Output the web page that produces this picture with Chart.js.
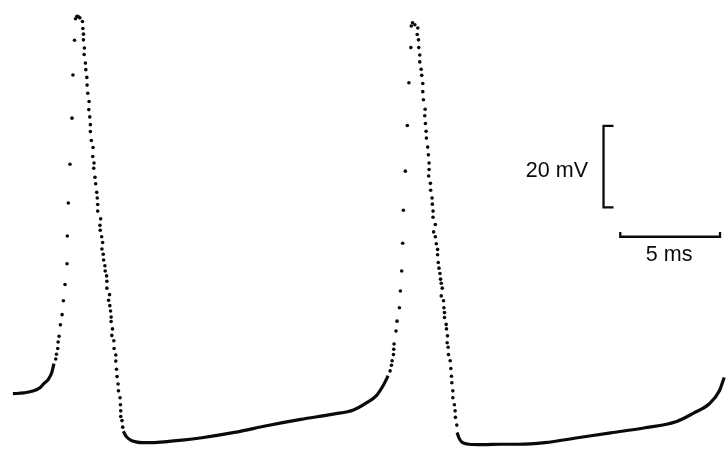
<!DOCTYPE html>
<html>
<head>
<meta charset="utf-8">
<title>Action potentials</title>
<script src="https://cdn.jsdelivr.net/npm/chart.js@4"></script>
<style>
  html, body { margin: 0; padding: 0; background: #fff; }
  #wrap { width: 726px; height: 451px; position: relative; }
</style>
</head>
<body>
<div id="wrap"><canvas id="chart"></canvas></div>
<script>
// time in ms, membrane potential in mV

// slow phases drawn as a continuous line
const restA_t = [0.446, 0.992, 1.488, 1.835, 1.984, 2.232, 2.396, 2.505];
const restA_v = [-65.6, -65.4, -64.9, -64.0, -63.2, -62.0, -60.4, -58.2];

const restB_t = [5.987, 6.116, 6.349, 6.612, 6.944, 7.440, 8.268, 8.928, 9.920, 11.557, 13.228, 14.880, 16.517, 17.524, 18.188, 18.684, 19.012, 19.260];
const restB_v = [-74.8, -76.0, -77.0, -77.4, -77.6, -77.6, -77.3, -77.0, -76.4, -75.1, -73.4, -71.9, -70.6, -69.6, -67.8, -66.0, -63.6, -61.2];

const restC_t = [22.717, 22.816, 22.965, 23.312, 24.056, 24.884, 25.792, 27.116, 28.768, 30.420, 32.076, 33.728, 34.556, 35.380, 35.876, 36.109];
const restC_v = [-75.1, -76.5, -77.5, -78.0, -78.1, -78.0, -78.0, -77.6, -76.4, -75.2, -74.0, -72.4, -70.4, -68.0, -64.8, -61.6];

// fast phases: individual samples
const spike1_t = [
  2.594, 2.629, 2.693, 2.713, 2.763, 2.827, 2.912, 2.976, 3.060, 3.160,
  3.174, 3.224, 3.308, 3.408, 3.457, 3.536, 3.586, 3.656, 3.720, 3.804,
  3.933, 3.953, 3.983, 3.983, 4.032, 4.018, 4.082, 4.102, 4.152, 4.166,
  4.201, 4.266, 4.251, 4.300, 4.330, 4.330, 4.380, 4.464, 4.449, 4.514,
  4.499, 4.563, 4.598, 4.648, 4.677, 4.697, 4.697, 4.846, 4.811, 4.826,
  4.896, 4.945, 4.910, 4.975, 4.995, 5.059, 5.074, 5.144, 5.158, 5.158,
  5.292, 5.243, 5.307, 5.342, 5.372, 5.372, 5.441, 5.406, 5.506, 5.520,
  5.605, 5.605, 5.640, 5.669, 5.719, 5.739, 5.818, 5.838, 5.853, 5.853,
  5.917, 5.952
];
const spike1_v = [
  -57.1, -55.9, -54.5, -52.9, -51.5, -48.7, -46.2, -42.8, -38.8, -33.7,
  -26.9, -18.8, -9.3, 2.0, 12.6, 21.1, 26.4, 27.0, 26.9, 26.6,
  25.7, 24.0, 22.6, 21.2, 19.2, 17.6, 15.5, 13.9, 12.0, 10.1,
  8.1, 6.1, 4.1, 2.3, 0.4, -1.3, -3.5, -5.2, -7.4, -9.0,
  -10.3, -12.5, -14.1, -16.2, -17.6, -19.2, -20.8, -22.7, -24.3, -25.5,
  -27.1, -28.5, -30.1, -31.4, -32.8, -34.2, -35.5, -36.7, -38.0, -39.7,
  -41.3, -42.7, -44.0, -45.3, -46.8, -47.9, -49.7, -51.3, -52.6, -54.5,
  -56.1, -57.6, -59.6, -61.4, -63.2, -64.9, -66.6, -68.3, -69.8, -71.2,
  -72.2, -73.8
];

const spike2_t = [
  19.359, 19.428, 19.458, 19.528, 19.542, 19.557, 19.656, 19.706, 19.825, 19.875,
  19.939, 19.989, 20.024, 20.123, 20.222, 20.301, 20.400, 20.420, 20.485, 20.599,
  20.748, 20.718, 20.782, 20.797, 20.847, 20.847, 20.916, 20.946, 20.996, 20.996,
  21.030, 21.115, 21.095, 21.130, 21.164, 21.179, 21.244, 21.278, 21.313, 21.313,
  21.293, 21.378, 21.392, 21.462, 21.477, 21.512, 21.512, 21.626, 21.541, 21.626,
  21.675, 21.740, 21.740, 21.774, 21.809, 21.859, 21.888, 21.923, 21.973, 21.923,
  22.037, 22.057, 22.087, 22.087, 22.171, 22.186, 22.236, 22.221, 22.270, 22.285,
  22.370, 22.404, 22.434, 22.454, 22.504, 22.504, 22.583, 22.618, 22.632, 22.702
];
const spike2_v = [
  -60.0, -58.6, -57.5, -56.0, -54.7, -53.4, -50.2, -47.8, -44.5, -40.4,
  -35.5, -28.7, -20.6, -11.0, 0.2, 10.7, 19.3, 24.6, 25.4, 24.9,
  24.1, 22.5, 21.2, 19.3, 17.5, 15.8, 14.0, 12.5, 10.5, 8.5,
  6.5, 4.2, 2.6, 0.7, -1.2, -2.9, -5.1, -7.0, -9.0, -10.6,
  -12.2, -14.0, -15.7, -17.6, -19.1, -20.8, -22.3, -24.1, -25.9, -27.1,
  -28.8, -30.2, -31.5, -33.4, -34.8, -36.1, -37.5, -38.5, -39.7, -41.6,
  -42.8, -44.5, -45.7, -46.9, -48.6, -49.7, -51.4, -53.1, -54.2, -56.0,
  -57.5, -59.4, -61.3, -62.9, -64.9, -66.6, -68.3, -69.8, -71.4, -73.3
];

// calibration bars
const BAR_MV = 20;
const BAR_MS = 5;
const VBAR_T = 30.06, VBAR_TOP = 0.1, VBAR_TICK = 0.5;
const HBAR_T = 30.90, HBAR_V = -27.1, HBAR_TICK = 1.2;

const X_MIN = 0, X_MAX = 36.0;
const Y_MIN = -78.67, Y_MAX = 30;

const INK = "#0a0a0a";

function pairs(ts, vs) {
  return ts.map((t, i) => ({ x: t, y: vs[i] }));
}

function curve(ts, vs) {
  return {
    data: pairs(ts, vs),
    showLine: true,
    borderColor: INK,
    borderWidth: 3.2,
    pointRadius: 0,
    cubicInterpolationMode: "monotone",
    clip: false,
  };
}

function dots(ts, vs) {
  return {
    data: pairs(ts, vs),
    showLine: false,
    pointRadius: 1.8,
    pointBorderWidth: 0,
    pointBackgroundColor: INK,
    clip: false,
  };
}

function bar(points) {
  return {
    data: points,
    showLine: true,
    borderColor: INK,
    borderWidth: 2.3,
    pointRadius: 0,
    tension: 0,
  };
}

const vBar = [
  { x: VBAR_T + VBAR_TICK, y: VBAR_TOP },
  { x: VBAR_T, y: VBAR_TOP },
  { x: VBAR_T, y: VBAR_TOP - BAR_MV },
  { x: VBAR_T + VBAR_TICK, y: VBAR_TOP - BAR_MV },
];
const hBar = [
  { x: HBAR_T, y: HBAR_V + HBAR_TICK },
  { x: HBAR_T, y: HBAR_V },
  { x: HBAR_T + BAR_MS, y: HBAR_V },
  { x: HBAR_T + BAR_MS, y: HBAR_V + HBAR_TICK },
];

const barLabels = {
  id: "barLabels",
  afterDatasetsDraw(chart) {
    const { ctx, scales } = chart;
    ctx.save();
    ctx.fillStyle = INK;
    ctx.font = '21.5px "Liberation Sans", Arial, sans-serif';
    ctx.textBaseline = "alphabetic";
    ctx.textAlign = "right";
    ctx.fillText(BAR_MV + " mV", scales.x.getPixelForValue(29.28), scales.y.getPixelForValue(-12.4));
    ctx.textAlign = "center";
    ctx.fillText(BAR_MS + " ms", scales.x.getPixelForValue(HBAR_T + BAR_MS / 2 - 0.05), scales.y.getPixelForValue(-33.1));
    ctx.restore();
  },
};

new Chart(document.getElementById("chart"), {
  type: "scatter",
  data: {
    datasets: [
      curve(restA_t, restA_v),
      curve(restB_t, restB_v),
      curve(restC_t, restC_v),
      dots(spike1_t, spike1_v),
      dots(spike2_t, spike2_v),
      bar(vBar),
      bar(hBar),
    ],
  },
  options: {
    responsive: true,
    maintainAspectRatio: false,
    animation: false,
    events: [],
    layout: { padding: 0 },
    plugins: { legend: { display: false }, tooltip: { enabled: false } },
    scales: {
      x: { type: "linear", min: X_MIN, max: X_MAX, display: false },
      y: { type: "linear", min: Y_MIN, max: Y_MAX, display: false },
    },
  },
  plugins: [barLabels],
});
</script>
</body>
</html>
